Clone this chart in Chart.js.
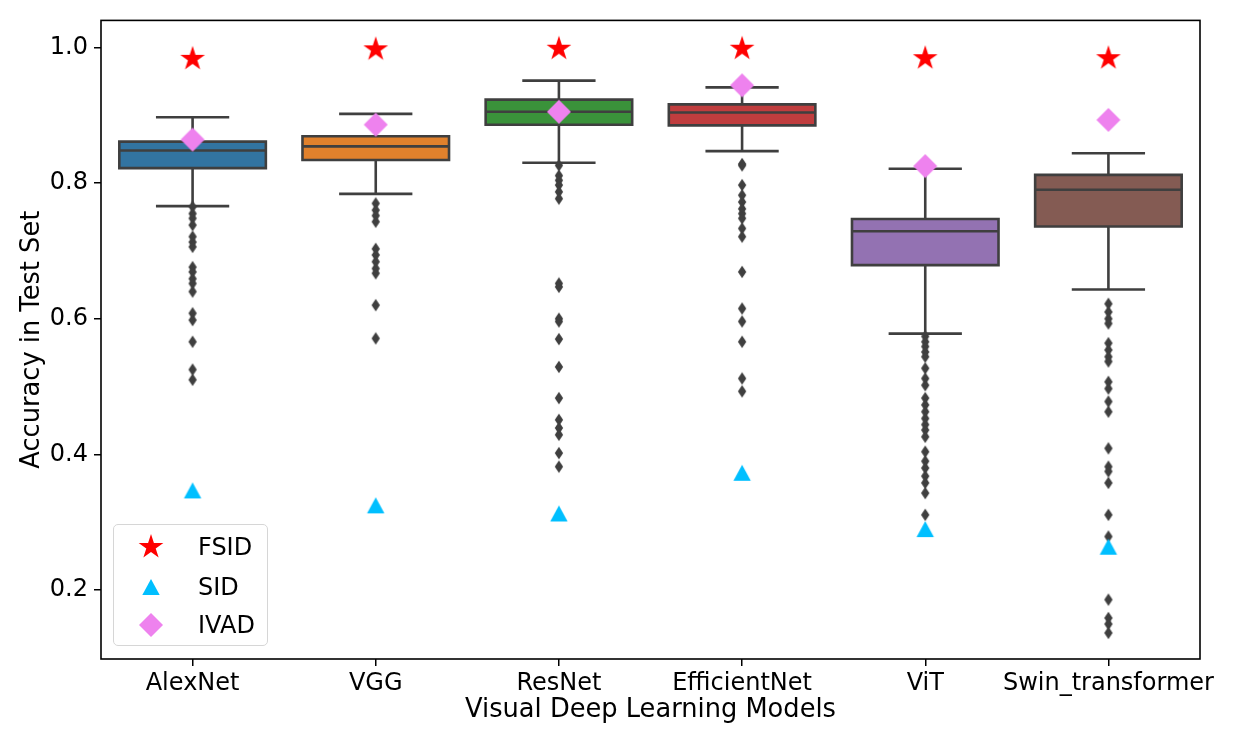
<!DOCTYPE html>
<html>
<head>
<meta charset="utf-8">
<script src="https://cdn.jsdelivr.net/npm/chart.js@4.4.0/dist/chart.umd.min.js"></script>
<style>
  body { margin: 0; background: #fff; }
  #wrap { position: relative; width: 1246px; height: 747px; }
  #legend {
    position: absolute; left: 113px; top: 524px; width: 153px; height: 120px;
    border: 1.5px solid #d6d6d6; border-radius: 5px; background: rgba(255,255,255,0.8);
    font-family: "DejaVu Sans"; font-size: 24px; color: #000;
  }
  #legend canvas { position: absolute; }
  #legend span { position: absolute; left: 84px; line-height: 30px; white-space: nowrap; }
</style>
</head>
<body>
<div id="wrap">
  <canvas id="chart"></canvas>
  <div id="legend"></div>
</div>
<script>
const categories = ["AlexNet", "VGG", "ResNet", "EfficientNet", "ViT", "Swin_transformer"];
const yTicks = [0.2, 0.4, 0.6, 0.8, 1.0];

const whiskerLow = [0.766, 0.784, 0.830, 0.847, 0.578, 0.643];
const q1 = [0.822, 0.834, 0.886, 0.885, 0.679, 0.736];
const median = [0.848, 0.854, 0.905, 0.904, 0.729, 0.790];
const q3 = [0.861, 0.869, 0.923, 0.916, 0.747, 0.812];
const whiskerHigh = [0.897, 0.902, 0.951, 0.941, 0.821, 0.844];

const outAlexNet = [0.765, 0.755, 0.748, 0.738, 0.721, 0.713, 0.706, 0.676, 0.669, 0.659, 0.652, 0.640, 0.608, 0.598, 0.566, 0.525, 0.510];
const outVGG = [0.770, 0.760, 0.752, 0.743, 0.703, 0.694, 0.684, 0.674, 0.667, 0.620, 0.571];
const outResNet = [0.826, 0.811, 0.804, 0.797, 0.787, 0.777, 0.652, 0.647, 0.600, 0.596, 0.570, 0.529, 0.483, 0.451, 0.439, 0.429, 0.402, 0.382];
const outEfficientNet = [0.828, 0.826, 0.797, 0.782, 0.772, 0.762, 0.755, 0.748, 0.733, 0.721, 0.669, 0.615, 0.596, 0.566, 0.512, 0.493];
const outViT = [0.574, 0.566, 0.559, 0.551, 0.544, 0.527, 0.512, 0.502, 0.483, 0.473, 0.463, 0.453, 0.444, 0.436, 0.426, 0.404, 0.390, 0.380, 0.368, 0.358, 0.343, 0.311];
const outSwin = [0.622, 0.610, 0.600, 0.593, 0.564, 0.554, 0.544, 0.537, 0.507, 0.497, 0.478, 0.463, 0.409, 0.382, 0.375, 0.358, 0.311, 0.279, 0.186, 0.159, 0.150, 0.137];

const fsid = [0.983, 0.997, 0.998, 0.998, 0.984, 0.984];
const sid = [0.347, 0.325, 0.313, 0.373, 0.290, 0.264];
const ivad = [0.864, 0.886, 0.905, 0.944, 0.825, 0.893];

const boxColors = ["#3274a1", "#e1812c", "#3a923a", "#c03d3e", "#9372b2", "#845b53"];
const lineColor = "#3f3f3f";
const font = "DejaVu Sans";

// marker images (matplotlib-like shapes)
function marker(shape, color, size) {
  const c = document.createElement("canvas");
  c.width = size; c.height = size;
  const g = c.getContext("2d");
  const m = size / 2;
  g.fillStyle = color;
  g.beginPath();
  if (shape === "star") {
    const R = 13;
    for (let i = 0; i < 10; i++) {
      const r = i % 2 ? R * 0.381 : R;
      const a = -Math.PI / 2 + i * Math.PI / 5;
      g.lineTo(m + r * Math.cos(a), m + r * Math.sin(a));
    }
  } else if (shape === "triangle") {
    g.moveTo(m, m - 8); g.lineTo(m + 8.7, m + 8); g.lineTo(m - 8.7, m + 8);
  } else if (shape === "diamond") {
    g.moveTo(m, m - 12); g.lineTo(m + 12, m); g.lineTo(m, m + 12); g.lineTo(m - 12, m);
  } else {
    g.moveTo(m, m - 6.2); g.lineTo(m + 4.2, m); g.lineTo(m, m + 6.2); g.lineTo(m - 4.2, m);
  }
  g.closePath();
  g.fill();
  return c;
}

const starImg = marker("star", "#ff0000", 30);
const triImg = marker("triangle", "#00bfff", 20);
const diaImg = marker("diamond", "#ee82ee", 26);
const fliImg = marker("thin", lineColor, 14);

const outliers = [outAlexNet, outVGG, outResNet, outEfficientNet, outViT, outSwin];
const flierPoints = [];
outliers.forEach((arr, i) => arr.forEach(v => flierPoints.push({ x: categories[i], y: v })));
const toPoints = vals => vals.map((v, i) => ({ x: categories[i], y: v }));

const boxPlugin = {
  id: "boxWhiskers",
  beforeDatasetsDraw(chart) {
    const { ctx, chartArea: a } = chart;
    ctx.save();
    ctx.strokeStyle = "#000";
    ctx.lineWidth = 1.6;
    ctx.strokeRect(a.left, a.top, a.right - a.left, a.bottom - a.top);
    ctx.restore();
  },
  afterDatasetDraw(chart, args) {
    if (args.index !== 0) return;
    const ctx = chart.ctx;
    const y = chart.scales.y;
    ctx.save();
    ctx.strokeStyle = lineColor;
    ctx.lineWidth = 2.6;
    args.meta.data.forEach((bar, i) => {
      const x = bar.x, half = bar.width / 2, cap = bar.width / 4;
      const top = y.getPixelForValue(q3[i]);
      const bottom = y.getPixelForValue(q1[i]);
      const hi = y.getPixelForValue(whiskerHigh[i]);
      const lo = y.getPixelForValue(whiskerLow[i]);
      const med = y.getPixelForValue(median[i]);
      ctx.beginPath();
      ctx.rect(x - half, top, bar.width, bottom - top);
      ctx.moveTo(x, top); ctx.lineTo(x, hi);
      ctx.moveTo(x, bottom); ctx.lineTo(x, lo);
      ctx.moveTo(x - cap, hi); ctx.lineTo(x + cap, hi);
      ctx.moveTo(x - cap, lo); ctx.lineTo(x + cap, lo);
      ctx.moveTo(x - half, med); ctx.lineTo(x + half, med);
      ctx.stroke();
    });
    ctx.restore();
  }
};

new Chart(document.getElementById("chart"), {
  type: "bar",
  data: {
    labels: categories,
    datasets: [
      {
        label: "box",
        data: categories.map((_, i) => [q1[i], q3[i]]),
        backgroundColor: boxColors,
        borderWidth: 0,
        barPercentage: 0.8,
        categoryPercentage: 1.0,
        order: 5
      },
      { type: "scatter", label: "fliers", data: flierPoints, pointStyle: fliImg, order: 4 },
      { type: "scatter", label: "FSID", data: toPoints(fsid), pointStyle: starImg, order: 3 },
      { type: "scatter", label: "SID", data: toPoints(sid), pointStyle: triImg, order: 2 },
      { type: "scatter", label: "IVAD", data: toPoints(ivad), pointStyle: diaImg, order: 1 }
    ]
  },
  options: {
    responsive: true,
    maintainAspectRatio: false,
    animation: false,
    layout: { padding: { top: 18, right: 46, left: 0, bottom: 0 } },
    plugins: { legend: { display: false }, tooltip: { enabled: false } },
    scales: {
      x: {
        type: "category",
        offset: true,
        grid: { display: true, drawOnChartArea: false, offset: false, color: "#000", lineWidth: 1.5, tickLength: 7 },
        border: { display: false },
        ticks: { color: "#000", font: { family: font, size: 24 }, padding: 3, maxRotation: 0, autoSkip: false },
        title: { display: true, text: "Visual Deep Learning Models", color: "#000", font: { family: font, size: 25.7 }, padding: { top: 0, bottom: 21 } },
        afterFit: s => { s.height = 88; }
      },
      y: {
        min: 0.0985,
        max: 1.0397,
        grid: { display: true, drawOnChartArea: false, color: "#000", lineWidth: 1.5, tickLength: 7 },
        border: { display: false },
        afterBuildTicks: s => { s.ticks = yTicks.map(v => ({ value: v })); },
        ticks: { color: "#000", font: { family: font, size: 24 }, padding: 6, callback: v => Number(v).toFixed(1) },
        title: { display: true, text: "Accuracy in Test Set", color: "#000", font: { family: font, size: 25.7 }, padding: { top: 17, bottom: 0 } },
        afterFit: s => { s.width = 101; }
      }
    }
  },
  plugins: [boxPlugin]
});

// legend drawn inside the plot, bottom-left
const legendItems = [
  { label: "FSID", color: "#ff0000", shape: "star", size: 30 },
  { label: "SID", color: "#00bfff", shape: "triangle", size: 20 },
  { label: "IVAD", color: "#ee82ee", shape: "diamond", size: 26 }
];
const legendRows = [22, 62, 100];
const legendEl = document.getElementById("legend");
legendItems.forEach((it, k) => {
  const c = marker(it.shape, it.color, it.size);
  c.style.left = (37 - it.size / 2) + "px";
  c.style.top = (legendRows[k] - it.size / 2) + "px";
  legendEl.appendChild(c);
  const s = document.createElement("span");
  s.textContent = it.label;
  s.style.top = (legendRows[k] - 15) + "px";
  legendEl.appendChild(s);
});
</script>
</body>
</html>
